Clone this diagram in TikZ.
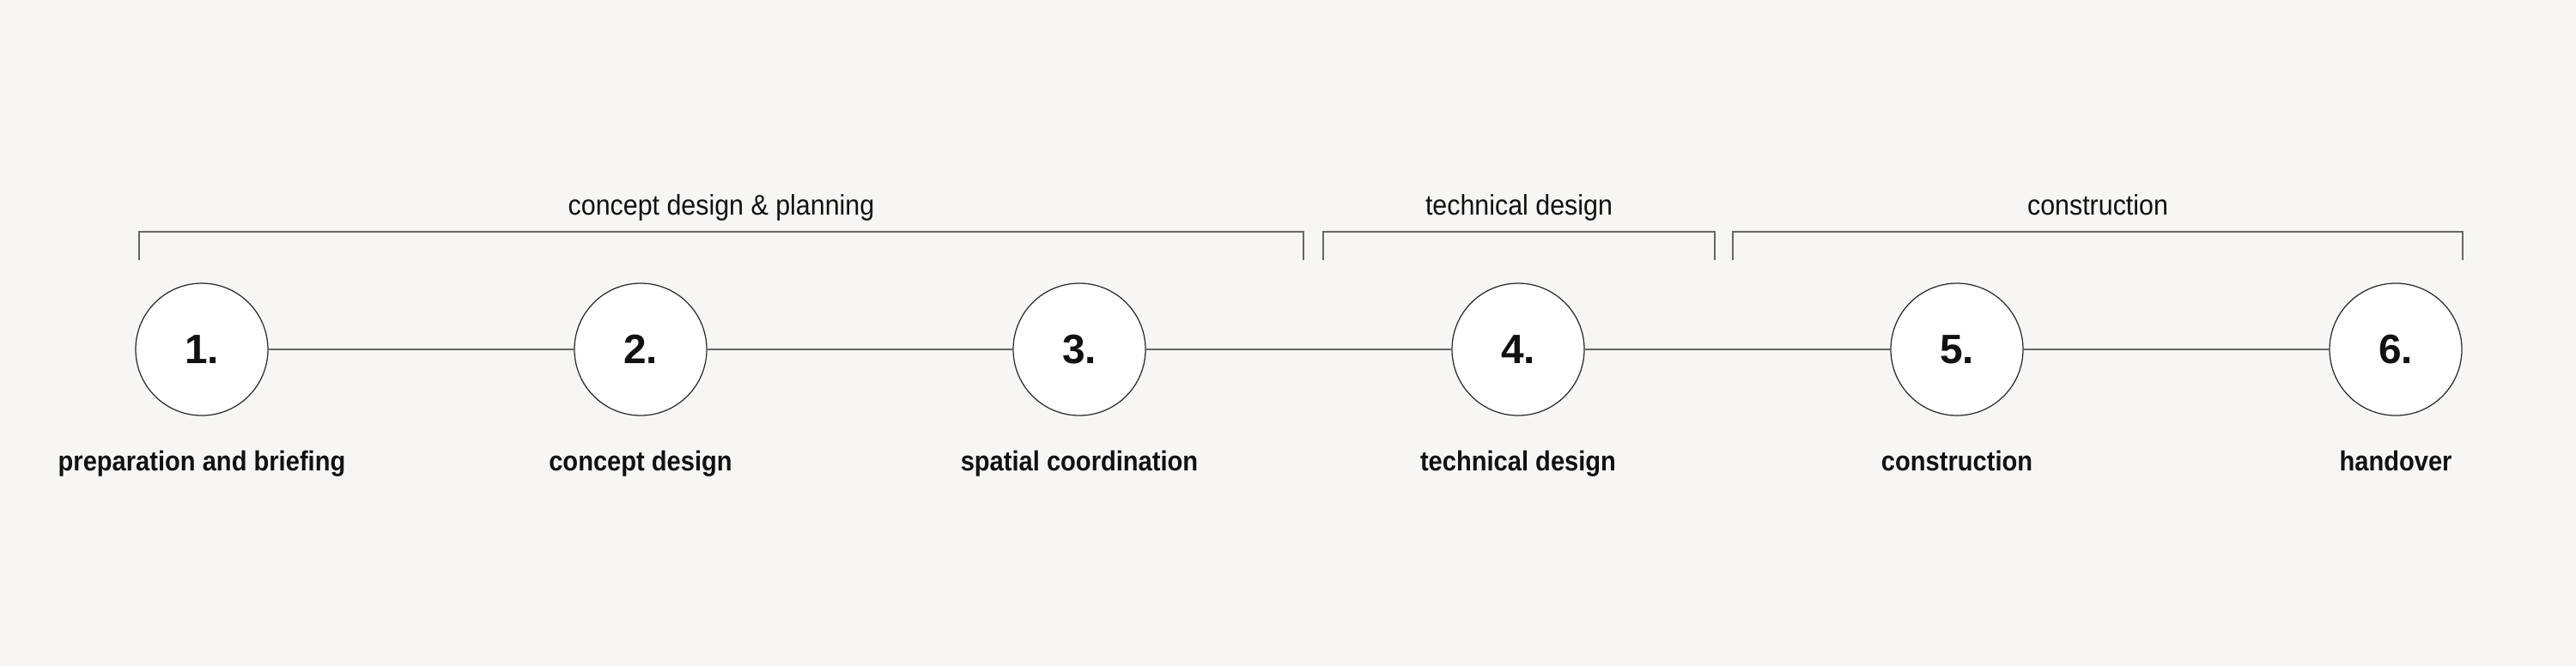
\documentclass[tikz,border=0pt]{standalone}
\usepackage{fontspec}
\setmainfont{Liberation Sans}
\newfontfamily\phasefont[FakeStretch=0.92]{Liberation Sans}
\newfontfamily\stagefont[FakeStretch=0.90]{Liberation Sans}
\usepackage{xcolor}
\usetikzlibrary{positioning}
\definecolor{pageBg}{HTML}{F7F6F4}
\definecolor{lineGrey}{HTML}{666666}
\definecolor{ringDark}{HTML}{2A2A2A}
\definecolor{inkBlack}{HTML}{111111}

\begin{document}
\begin{tikzpicture}[
  every node/.style={text=inkBlack},
  stage/.style={circle, draw=ringDark, line width=0.35pt, fill=white,
                minimum size=1.54cm, inner sep=0pt,
                font=\fontsize{13.6}{16}\selectfont\bfseries},
  stageName/.style={anchor=base, font=\stagefont\fontsize{9.2}{11}\selectfont\bfseries},
  phaseName/.style={anchor=base, font=\phasefont\fontsize{9.4}{11}\selectfont},
  link/.style={draw=lineGrey, line width=0.55pt},
  bracket/.style={draw=lineGrey, line width=0.5pt},
]
  \fill[pageBg] (0,0) rectangle (30,-7.76);
  \useasboundingbox (0,0) rectangle (30,-7.76);

  \node[stage] (s1) at (2.35,-4.07) {1.};
  \node[stage] (s2) at (7.46,-4.07) {2.};
  \node[stage] (s3) at (12.57,-4.07) {3.};
  \node[stage] (s4) at (17.68,-4.07) {4.};
  \node[stage] (s5) at (22.79,-4.07) {5.};
  \node[stage] (s6) at (27.90,-4.07) {6.};

  \draw[link] (s1) -- (s2);
  \draw[link] (s2) -- (s3);
  \draw[link] (s3) -- (s4);
  \draw[link] (s4) -- (s5);
  \draw[link] (s5) -- (s6);

  \coordinate (base) at (0,-5.48);
  \node[stageName] (n1) at (s1 |- base) {preparation and briefing};
  \node[stageName] (n2) at (s2 |- base) {concept design};
  \node[stageName] (n3) at (s3 |- base) {spatial coordination};
  \node[stageName] (n4) at (s4 |- base) {technical design};
  \node[stageName] (n5) at (s5 |- base) {construction};
  \node[stageName] (n6) at (s6 |- base) {handover};

  % phase brackets
  \draw[bracket] (1.62,-3.03) -- (1.62,-2.70) -- (15.18,-2.70) -- (15.18,-3.03);
  \draw[bracket] (15.41,-3.03) -- (15.41,-2.70) -- (19.97,-2.70) -- (19.97,-3.03);
  \draw[bracket] (20.18,-3.03) -- (20.18,-2.70) -- (28.68,-2.70) -- (28.68,-3.03);

  \node[phaseName] (p1) at (8.40,-2.505) {concept design \& planning};
  \node[phaseName] (p2) at (17.69,-2.505) {technical design};
  \node[phaseName] (p3) at (24.43,-2.505) {construction};
\end{tikzpicture}
\end{document}
